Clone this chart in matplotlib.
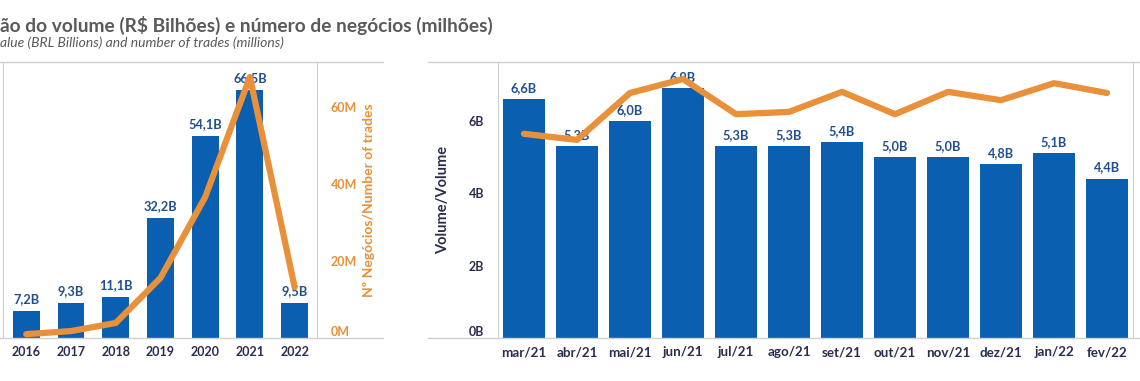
import numpy as np
import matplotlib
matplotlib.use('Agg')
import matplotlib.pyplot as plt
from matplotlib.lines import Line2D

plt.rcParams['font.family'] = ['Lato', 'DejaVu Sans']

# annual data
years = ['2016', '2017', '2018', '2019', '2020', '2021', '2022']
vol_year = [7.2, 9.3, 11.1, 32.2, 54.1, 66.5, 9.5]          # R$ bilhoes
vol_year_lbl = ['7,2B', '9,3B', '11,1B', '32,2B', '54,1B', '66,5B', '9,5B']
trades_year = [1.0, 1.8, 3.9, 15.6, 36.6, 67.8, 13.2]      # milhoes

# monthly data
months = ['mar/21', 'abr/21', 'mai/21', 'jun/21', 'jul/21', 'ago/21',
          'set/21', 'out/21', 'nov/21', 'dez/21', 'jan/22', 'fev/22']
vol_month = [6.6, 5.3, 6.0, 6.9, 5.3, 5.3, 5.4, 5.0, 5.0, 4.8, 5.1, 4.4]
vol_month_lbl = ['6,6B', '5,3B', '6,0B', '6,9B', '5,3B', '5,3B',
                 '5,4B', '5,0B', '5,0B', '4,8B', '5,1B', '4,4B']
trades_month = [5.40, 5.24, 6.48, 6.85, 5.92, 5.98, 6.51, 5.92, 6.51, 6.29, 6.74, 6.48]

BLUE = '#0a5fb0'
ORANGE = '#e8903a'
LBL = '#1f4f8f'
NAVY = '#2a2d4f'
GRID = '#cfcfcf'

W, H = 1140, 381
fig = plt.figure(figsize=(W/100, H/100), dpi=100)

def px_axes(x0, x1, ytop, ybot):
    return fig.add_axes([x0/W, 1-ybot/H, (x1-x0)/W, (ybot-ytop)/H])

def hline(x0, x1, y):
    fig.add_artist(Line2D([x0/W, x1/W], [1-y/H, 1-y/H], color=GRID, lw=1))

# title
fig.text(0, 1-25/H, 'ão do volume (R$ Bilhões) e número de negócios (milhões)',
         fontsize=13.8, fontweight='bold', color='#5a5a5a', va='center', ha='left')
fig.text(0, 1-43/H, 'alue (BRL Billions) and number of trades (millions)',
         fontsize=10, style='italic', color='#5a5a5a', va='center', ha='left')

# ---------- left chart
ax = px_axes(3, 317, 62, 338)
x = np.arange(len(years))
ax.bar(x, vol_year, width=0.6, color=BLUE, zorder=2)
for i in range(len(years)):
    ax.text(x[i], vol_year[i] + 1.6, vol_year_lbl[i], ha='center', va='bottom',
            fontsize=9.2, fontweight='bold', color=LBL)
ax.set_xlim(-0.52, 6.5)
ax.set_ylim(0, 74)
ax.set_yticks([])
ax.set_xticks(x)
ax.set_xticklabels(years, fontsize=9, fontweight='bold', color=NAVY)
ax.tick_params(axis='x', length=0, pad=6)
for s in ['top', 'bottom']:
    ax.spines[s].set_visible(False)
for s in ['left', 'right']:
    ax.spines[s].set_color(GRID)

ax2 = ax.twinx()
ax2.plot(x, trades_year, color=ORANGE, lw=4.5, solid_capstyle='round', solid_joinstyle='round')
ax2.set_ylim(0, 71.7)
ax2.set_yticks([0, 20, 40, 60])
ax2.set_yticklabels(['0M', '20M', '40M', '60M'], fontsize=9, fontweight='bold', color=ORANGE)
ax2.get_yticklabels()[0].set_va('bottom')
ax2.tick_params(axis='y', length=0, pad=10)
ax2.set_ylabel('Nº Negócios/Number of trades', fontsize=10, fontweight='bold', color=ORANGE, labelpad=4)
for s in ax2.spines.values():
    s.set_visible(False)

# ---------- right chart
bx = px_axes(498, 1133, 62, 338)
m = np.arange(len(months))
bx.bar(m, vol_month, width=0.79, color=BLUE, zorder=2)
for i in range(len(months)):
    bx.text(m[i], vol_month[i] + 0.14, vol_month_lbl[i], ha='center', va='bottom',
            fontsize=9.2, fontweight='bold', color=LBL)
bx.set_xlim(-0.49, 11.49)
bx.set_ylim(0, 7.62)
bx.set_yticks([0, 2, 4, 6])
bx.set_yticklabels(['0B', '2B', '4B', '6B'], fontsize=9, fontweight='bold', color=NAVY)
bx.get_yticklabels()[0].set_va('bottom')
bx.set_ylabel('Volume/Volume', fontsize=10.5, fontweight='bold', color=NAVY, labelpad=13)
bx.set_xticks(m)
bx.set_xticklabels(months, fontsize=9.6, fontweight='bold', color=NAVY)
bx.tick_params(axis='both', length=0)
bx.tick_params(axis='x', pad=6)
bx.tick_params(axis='y', pad=10)
for s in ['top', 'bottom']:
    bx.spines[s].set_visible(False)
for s in ['left', 'right']:
    bx.spines[s].set_color(GRID)

bx2 = bx.twinx()
bx2.plot(m, trades_month, color=ORANGE, lw=4.5, solid_capstyle='round', solid_joinstyle='round')
bx2.set_ylim(0, 7.3)
bx2.set_yticks([])
for s in bx2.spines.values():
    s.set_visible(False)

# light frame lines running past the plots
hline(0, 383, 62)
hline(0, 383, 338)
hline(428, 1140, 62)
hline(428, 1140, 338)

fig.savefig('out.png', dpi=100)
